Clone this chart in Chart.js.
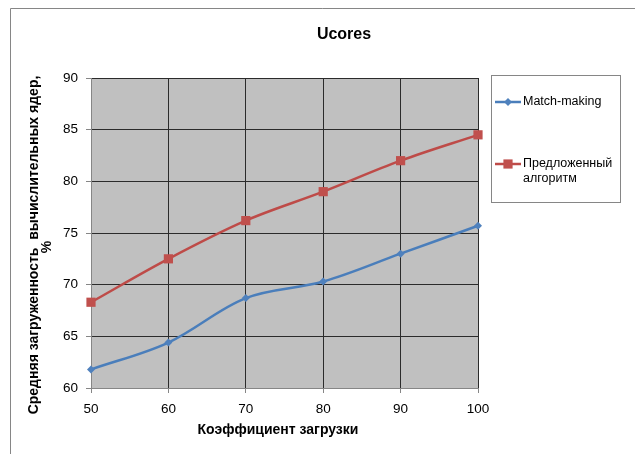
<!DOCTYPE html>
<html>
<head>
<meta charset="utf-8">
<title>Ucores</title>
<script src="https://cdn.jsdelivr.net/npm/chart.js@4.4.1/dist/chart.umd.min.js"></script>
<style>
    html, body { margin: 0; padding: 0; background: #fff; }
    #wrap { width: 635px; height: 454px; position: relative; }
</style>
</head>
<body>
<div id="wrap"><canvas id="chart" width="635" height="454"></canvas></div>
<script>
// ========================================
// Data
// ========================================
const loadFactor = [50, 60, 70, 80, 90, 100];
const matchMaking = [61.8, 64.4, 68.7, 70.3, 73.0, 75.7];
const proposedAlg = [68.3, 72.5, 76.2, 79.0, 82.0, 84.5];
const yTicks = [60, 65, 70, 75, 80, 85, 90];

const chartTitle = 'Ucores';
const xTitle = 'Коэффициент загрузки';
const yTitle = ['Средняя загруженность  вычислительных ядер,', '%'];
const seriesNames = ['Match-making', 'Предложенный алгоритм'];

const FONT = "'Liberation Sans', Arial, sans-serif";

function toPoints(values) {
    return loadFactor.map((x, i) => ({ x: x, y: values[i] }));
}

// ========================================
// Marker helper (legend)
// ========================================
function drawMarker(ctx, style, r, x, y, color) {
    ctx.fillStyle = color;
    ctx.beginPath();
    if (style === 'rectRot') {
        ctx.moveTo(x, y - r);
        ctx.lineTo(x + r, y);
        ctx.lineTo(x, y + r);
        ctx.lineTo(x - r, y);
    } else {
        const s = Math.SQRT1_2 * r;
        ctx.rect(x - s, y - s, 2 * s, 2 * s);
    }
    ctx.closePath();
    ctx.fill();
}

// ========================================
// Frame, plot background, titles, legend
// ========================================
const excelDecor = {
    id: 'excelDecor',
    beforeDraw(chart) {
        const { ctx, chartArea: a } = chart;
        ctx.save();
        ctx.fillStyle = '#fff';
        ctx.fillRect(0, 0, chart.width, chart.height);
        ctx.strokeStyle = '#868686';
        ctx.lineWidth = 1;
        ctx.beginPath();
        ctx.moveTo(10.5, chart.height);
        ctx.lineTo(10.5, 8.5);
        ctx.lineTo(chart.width, 8.5);
        ctx.stroke();
        ctx.fillStyle = '#c0c0c0';
        ctx.fillRect(a.left, a.top, a.right - a.left, a.bottom - a.top);
        ctx.restore();
    },
    afterDraw(chart) {
        const ctx = chart.ctx;
        ctx.save();
        ctx.fillStyle = '#000';
        ctx.textBaseline = 'middle';
        ctx.textAlign = 'center';

        // title
        ctx.font = 'bold 16px ' + FONT;
        ctx.fillText(chartTitle, 344, 35);

        // x axis title
        ctx.font = 'bold 14px ' + FONT;
        ctx.fillText(xTitle, 278, 430);

        // y axis title (rotated, two lines)
        ctx.save();
        ctx.translate(34, 245);
        ctx.rotate(-Math.PI / 2);
        ctx.fillText(yTitle[0], 0, 0);
        ctx.restore();
        ctx.save();
        ctx.translate(47, 247);
        ctx.rotate(-Math.PI / 2);
        ctx.fillText(yTitle[1], 0, 0);
        ctx.restore();

        // legend box
        ctx.strokeStyle = '#868686';
        ctx.lineWidth = 1;
        ctx.strokeRect(491.5, 75.5, 129, 127);

        const rows = [102, 164];
        ctx.font = '12.5px ' + FONT;
        ctx.textAlign = 'left';
        chart.data.datasets.forEach((ds, i) => {
            const y = rows[i];
            ctx.strokeStyle = ds.borderColor;
            ctx.lineWidth = ds.borderWidth;
            ctx.beginPath();
            ctx.moveTo(495, y);
            ctx.lineTo(521, y);
            ctx.stroke();
            drawMarker(ctx, ds.pointStyle, ds.pointRadius, 508, y, ds.pointBackgroundColor);

            // wrap label to the legend width
            ctx.fillStyle = '#000';
            const words = ds.label.split(' ');
            let line = '';
            let ly = y;
            words.forEach(w => {
                const test = line ? line + ' ' + w : w;
                if (line && ctx.measureText(test).width > 95) {
                    ctx.fillText(line, 523, ly);
                    line = w;
                    ly += 15;
                } else {
                    line = test;
                }
            });
            ctx.fillText(line, 523, ly);
        });
        ctx.restore();
    }
};

// ========================================
// Chart
// ========================================
new Chart(document.getElementById('chart'), {
    type: 'line',
    data: {
        datasets: [{
            label: seriesNames[0],
            data: toPoints(matchMaking),
            borderColor: '#4a7ebb',
            backgroundColor: '#4f81bd',
            pointBackgroundColor: '#4f81bd',
            pointBorderWidth: 0,
            borderWidth: 2.5,
            pointStyle: 'rectRot',
            pointRadius: 4,
            tension: 0.35,
            clip: false
        }, {
            label: seriesNames[1],
            data: toPoints(proposedAlg),
            borderColor: '#be4b48',
            backgroundColor: '#c0504d',
            pointBackgroundColor: '#c0504d',
            pointBorderWidth: 0,
            borderWidth: 2.5,
            pointStyle: 'rect',
            pointRadius: 6.5,
            tension: 0.35,
            clip: false
        }]
    },
    options: {
        responsive: false,
        animation: false,
        layout: { padding: { left: 0, top: 78, right: 157, bottom: 0 } },
        plugins: {
            legend: { display: false },
            title: { display: false },
            tooltip: { enabled: false }
        },
        scales: {
            x: {
                type: 'linear',
                min: loadFactor[0],
                max: loadFactor[loadFactor.length - 1],
                afterBuildTicks(scale) {
                    scale.ticks = loadFactor.map(v => ({ value: v }));
                },
                afterFit(scale) { scale.height = 66; },
                grid: { color: '#2b2b2b', tickColor: '#868686', tickLength: 5 },
                border: { color: '#868686', width: 1 },
                ticks: { color: '#000', padding: 8, font: { family: FONT, size: 13.5 } }
            },
            y: {
                min: yTicks[0],
                max: yTicks[yTicks.length - 1],
                afterBuildTicks(scale) {
                    scale.ticks = yTicks.map(v => ({ value: v }));
                },
                afterFit(scale) { scale.width = 91; },
                grid: { color: '#2b2b2b', tickColor: '#868686', tickLength: 5 },
                border: { color: '#868686', width: 1 },
                ticks: { color: '#000', padding: 8, font: { family: FONT, size: 13.5 } }
            }
        }
    },
    plugins: [excelDecor]
});
</script>
</body>
</html>
